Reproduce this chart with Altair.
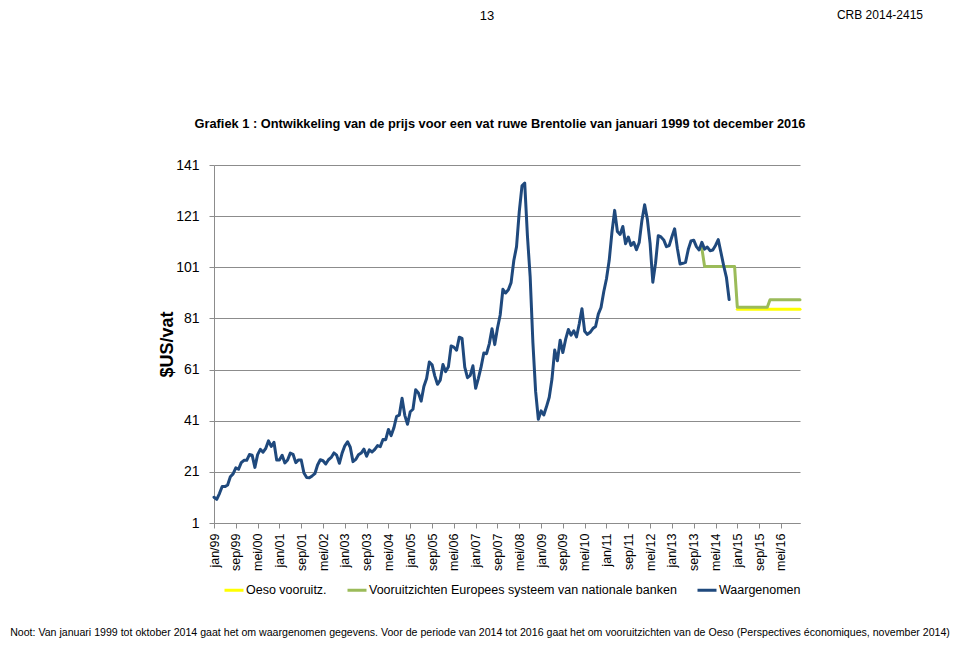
import altair as alt
import pandas as pd

FONT = "Liberation Sans, Arial, sans-serif"

# x-axis tick labels (every 8 months from jan/99)
tick_labels = ["jan/99", "sep/99", "mei/00", "jan/01", "sep/01", "mei/02", "jan/03",
               "sep/03", "mei/04", "jan/05", "sep/05", "mei/06", "jan/07", "sep/07",
               "mei/08", "jan/09", "sep/09", "mei/10", "jan/11", "sep/11", "mei/12",
               "jan/13", "sep/13", "mei/14", "jan/15", "sep/15", "mei/16"]

# Observed monthly Brent price ($US/vat), jan 1999 - okt 2014
obs_1999 = [11.08, 10.27, 12.51, 15.29, 15.23, 15.86, 19.08, 20.22, 22.54, 22.01, 24.59, 25.50]
obs_2000 = [25.51, 27.78, 27.49, 22.76, 27.74, 29.80, 28.68, 30.20, 33.14, 30.96, 32.55, 25.66]
obs_2001 = [25.62, 27.50, 24.50, 25.66, 28.31, 27.85, 24.61, 25.68, 25.62, 20.54, 18.80, 18.71]
obs_2002 = [19.42, 20.28, 23.70, 25.73, 25.35, 24.08, 25.74, 26.65, 28.40, 27.54, 24.34, 28.33]
obs_2003 = [31.18, 32.77, 30.61, 25.00, 25.86, 27.65, 28.35, 29.89, 27.11, 29.61, 28.75, 29.81]
obs_2004 = [31.28, 30.86, 33.63, 33.59, 37.57, 35.18, 38.22, 42.74, 43.20, 49.78, 43.11, 39.60]
obs_2005 = [44.51, 45.48, 53.10, 51.88, 48.65, 54.35, 57.52, 63.98, 62.91, 58.54, 55.24, 56.86]
obs_2006 = [62.99, 60.21, 62.06, 70.26, 69.78, 68.56, 73.67, 73.23, 61.96, 57.81, 58.76, 62.47]
obs_2007 = [53.68, 57.56, 62.05, 67.49, 67.21, 71.05, 76.93, 70.76, 77.17, 82.34, 92.41, 90.93]
obs_2008 = [92.18, 94.99, 103.64, 109.07, 122.80, 132.83, 133.90, 113.24, 97.23, 71.58, 52.45, 41.58]
obs_2009 = [44.86, 43.24, 46.54, 50.18, 57.30, 68.61, 64.44, 72.51, 67.65, 72.77, 76.66, 74.46]
obs_2010 = [76.17, 73.75, 78.83, 84.82, 75.95, 74.76, 75.58, 77.04, 77.84, 82.67, 85.28, 91.45]
obs_2011 = [96.52, 103.72, 114.64, 123.26, 114.99, 113.83, 116.97, 110.22, 112.83, 109.55, 110.77, 107.87]
obs_2012 = [110.69, 119.33, 125.45, 119.75, 110.34, 95.16, 102.62, 113.36, 112.86, 111.71, 109.06, 109.49]
obs_2013 = [112.96, 116.05, 108.47, 102.25, 102.56, 102.92, 107.93, 111.28, 111.60, 109.08, 107.79, 110.76]
obs_2014 = [108.12, 108.90, 107.48, 107.76, 109.54, 111.80, 106.77, 101.61, 97.09, 88.40]

# Forecasts (annual levels)
escb_dec2013 = 108.4
escb_years = [2014, 2015, 2016]
escb_annual = [101.3, 85.4, 88.3]
oeso_years = [2015, 2016]
oeso_annual = [84.6, 84.6]

series = ["Oeso vooruitz.", "Vooruitzichten Europees systeem van nationale banken", "Waargenomen"]
colors = ["#FFFF00", "#9BBB59", "#1F497D"]

observed = (obs_1999 + obs_2000 + obs_2001 + obs_2002 + obs_2003 + obs_2004 + obs_2005 +
            obs_2006 + obs_2007 + obs_2008 + obs_2009 + obs_2010 + obs_2011 + obs_2012 +
            obs_2013 + obs_2014)

rows = []
for i, v in enumerate(observed):
    rows.append({"m": i, "v": v, "s": series[2]})
rows.append({"m": (2013 - 1999) * 12 + 11, "v": escb_dec2013, "s": series[1]})
for yr, val in zip(escb_years, escb_annual):
    for k in range(12):
        rows.append({"m": (yr - 1999) * 12 + k, "v": val, "s": series[1]})
for yr, val in zip(oeso_years, oeso_annual):
    for k in range(12):
        rows.append({"m": (yr - 1999) * 12 + k, "v": val, "s": series[0]})
df = pd.DataFrame(rows)

label_expr = "[" + ",".join("'%s'" % t for t in tick_labels) + "][round(datum.value/8)]"

xenc = alt.X("m:Q",
             scale=alt.Scale(domain=[0, 215], nice=False, zero=False),
             axis=alt.Axis(values=list(range(0, 209, 8)), labelExpr=label_expr,
                           labelAngle=270, labelAlign="right", labelBaseline="middle",
                           labelFontSize=12.5, labelFont=FONT, labelColor="black",
                           labelPadding=5, labelOverlap=False, labelFlush=False,
                           tickSize=5, tickColor="#8c8c8c", domainColor="#8c8c8c",
                           grid=False, title=None))
yenc = alt.Y("v:Q",
             scale=alt.Scale(domain=[1, 141], nice=False, zero=False),
             axis=alt.Axis(values=list(range(1, 142, 20)), grid=True, gridColor="#8c8c8c",
                           domainColor="#8c8c8c", tickColor="#8c8c8c", tickSize=5,
                           labelPadding=10, labelFontSize=14, labelFont=FONT,
                           labelColor="black", title="$US/vat", titleFont=FONT,
                           titleFontSize=18, titleFontWeight="bold", titleColor="black",
                           titleAngle=270, titleX=-47, titleY=179,
                           titleAlign="center", titleBaseline="middle"))
cenc = alt.Color("s:N",
                 scale=alt.Scale(domain=series, range=colors),
                 legend=alt.Legend(orient="none", legendX=9, legendY=414,
                                   direction="horizontal", symbolType="stroke",
                                   symbolSize=361, symbolStrokeWidth=3,
                                   labelFontSize=12.5, labelFont=FONT, labelColor="black",
                                   columnPadding=14, labelOffset=1, title=None,
                                   padding=0, labelLimit=500))

def line_layer(name):
    return (alt.Chart(df).transform_filter(alt.datum.s == name)
            .mark_line(strokeWidth=3, strokeJoin="round", strokeCap="round")
            .encode(x=xenc, y=yenc, color=cenc))

def text_layer(txt, x, y, size=14, weight="normal", align="center", baseline="middle"):
    return (alt.Chart(pd.DataFrame({"t": [txt]}))
            .mark_text(font=FONT, fontSize=size, fontWeight=weight, align=align,
                       baseline=baseline, color="black")
            .encode(text="t:N", x=alt.value(x), y=alt.value(y)))

title_txt = "Grafiek 1 : Ontwikkeling van de prijs voor een vat ruwe Brentolie van januari 1999 tot december 2016"
note_txt = ("Noot: Van januari 1999 tot oktober 2014 gaat het om waargenomen gegevens. Voor de periode van "
            "2014 tot 2016 gaat het om vooruitzichten van de Oeso (Perspectives économiques, november 2014)")

chart = alt.layer(
    line_layer(series[0]),
    line_layer(series[1]),
    line_layer(series[2]),
    text_layer("13", 273, -155, size=13, baseline="top"),
    text_layer("CRB 2014-2415", 709, -155, size=12, align="right", baseline="top"),
    text_layer(title_txt, 286, -41, size=12.8, weight="bold"),
    text_layer(note_txt, 266, 468, size=10.6),
).properties(
    width=586, height=358,
    padding={"left": 206, "top": 157, "right": 152, "bottom": 115},
    autosize=alt.AutoSizeParams(type="none"),
).configure_view(strokeWidth=0)

chart.save("out.html", embed_options={"renderer": "svg", "actions": False})
